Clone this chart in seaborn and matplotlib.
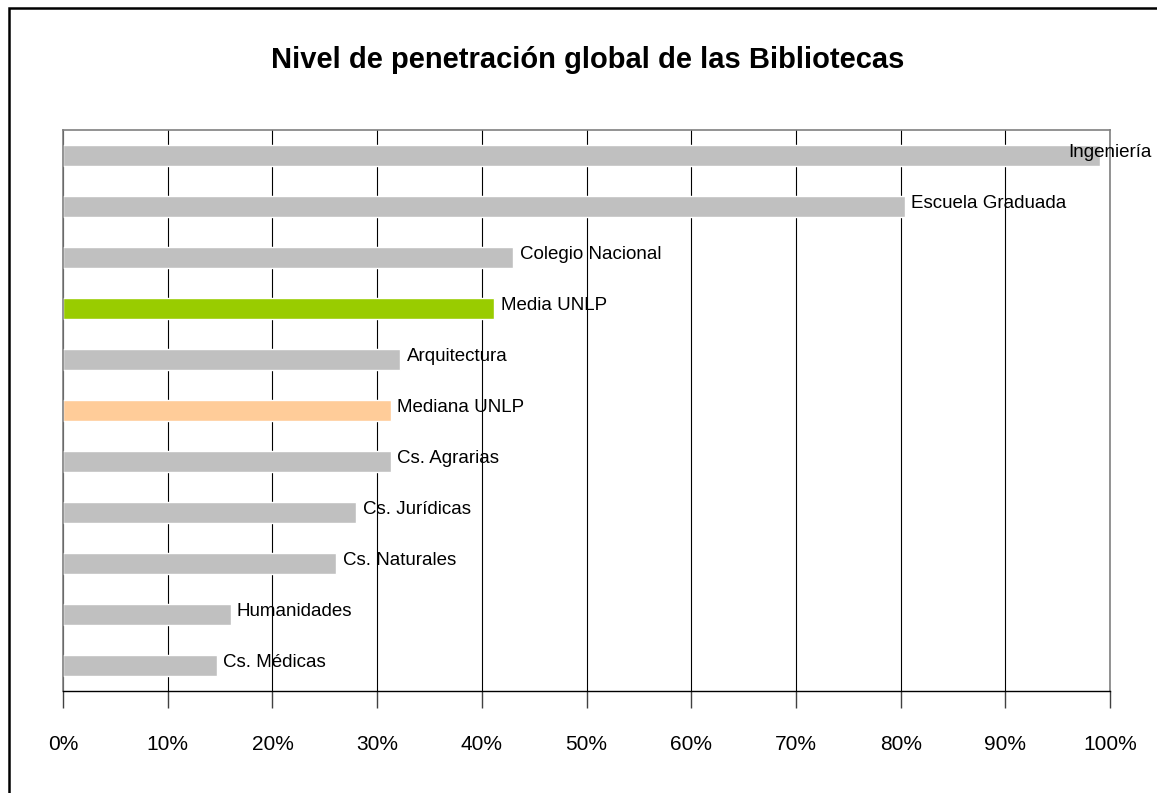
import matplotlib
matplotlib.use("Agg")
import matplotlib.pyplot as plt
import matplotlib.patches as mpatches
from matplotlib.ticker import PercentFormatter
import pandas as pd
import seaborn as sns

categories = ["Ingeniería", "Escuela Graduada", "Colegio Nacional", "Media UNLP",
              "Arquitectura", "Mediana UNLP", "Cs. Agrarias", "Cs. Jurídicas",
              "Cs. Naturales", "Humanidades", "Cs. Médicas"]
values = [99.0, 80.4, 43.0, 41.2, 32.2, 31.3, 31.3, 28.0, 26.1, 16.0, 14.7]
colors = ["#C0C0C0", "#C0C0C0", "#C0C0C0", "#99CC00", "#C0C0C0", "#FFCC99",
          "#C0C0C0", "#C0C0C0", "#C0C0C0", "#C0C0C0", "#C0C0C0"]
title = "Nivel de penetración global de las Bibliotecas"

df = pd.DataFrame({"cat": categories, "val": values})
palette = dict(zip(categories, colors))

sns.set_style("white")
plt.rcParams["font.family"] = ["Liberation Sans", "DejaVu Sans"]
plt.rcParams["text.color"] = "black"
plt.rcParams["xtick.color"] = "black"

fig = plt.figure(figsize=(11.57, 7.93), dpi=100)
ax = fig.add_axes([0.0545, 0.1286, 0.905, 0.7075])

sns.barplot(data=df, x="val", y="cat", hue="cat", palette=palette, order=categories,
            orient="h", width=0.4, legend=False, saturation=1, ax=ax)

ax.set_xlim(0, 100)
ax.set_xticks(range(0, 101, 10))
ax.xaxis.set_major_formatter(PercentFormatter(decimals=0))
ax.set_yticks([])
ax.set_xlabel("")
ax.set_ylabel("")
ax.set_axisbelow(True)
ax.grid(axis="x", color="black", linewidth=0.8)

for side in ["top", "left", "right"]:
    ax.spines[side].set_color("#808080")
    ax.spines[side].set_linewidth(1.2)
ax.spines["bottom"].set_color("black")
ax.spines["bottom"].set_linewidth(1.0)
ax.tick_params(axis="x", bottom=True, direction="out", length=12, width=1,
               color="#404040", pad=20, labelsize=15, labelcolor="black")

for i, (c, v) in enumerate(zip(categories, values)):
    # the longest bar's label is pulled back so it fits inside the frame
    x = v + 0.6 if v < 90 else v - 3.0
    ax.text(x, i - 0.05, c, va="center", ha="left", fontsize=13.5, color="black",
            clip_on=False)

fig.text(0.508, 0.924, title, ha="center", va="center", fontsize=21, fontweight="bold")

frame = mpatches.Rectangle((9 / 1157, -0.05), 1.0, 1 - 8 / 793 + 0.05,
                           transform=fig.transFigure, fill=False, edgecolor="black",
                           linewidth=1.8)
fig.add_artist(frame)

fig.savefig("out.png", dpi=100)
